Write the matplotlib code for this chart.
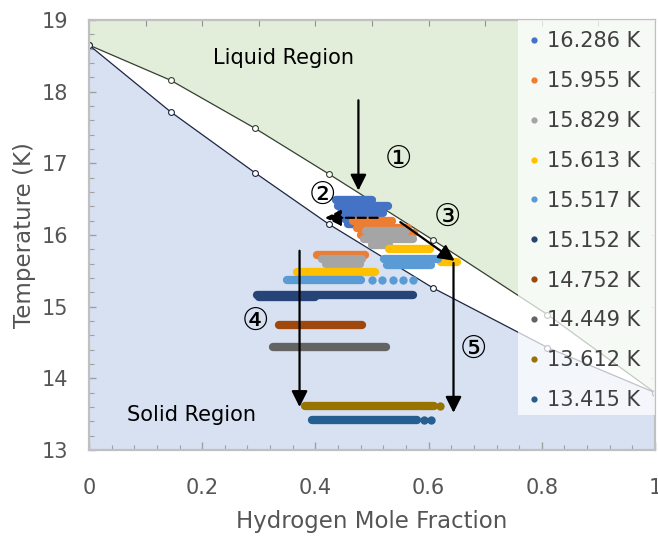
import matplotlib
matplotlib.use("Agg")
import matplotlib.pyplot as plt
from matplotlib.lines import Line2D
from matplotlib.patches import Rectangle
from matplotlib.ticker import MultipleLocator

plt.rcParams['font.family'] = ['DejaVu Sans', 'Noto Sans CJK SC']

# ---- phase boundary data ----
line_x = [0.0, 0.144, 0.293, 0.424, 0.608, 0.81, 1.0]
liquidus_T = [18.65, 18.16, 17.49, 16.85, 15.93, 14.89, 13.80]
solidus_T = [18.65, 17.72, 16.87, 16.15, 15.26, 14.43, 13.80]

# ---- measured series: rows of merged dots (x_start, x_end, T) ----
labels = ['16.286 K', '15.955 K', '15.829 K', '15.613 K', '15.517 K',
          '15.152 K', '14.752 K', '14.449 K', '13.612 K', '13.415 K']
colors = ['#4472c4', '#ed7d31', '#a5a5a5', '#ffc000', '#5b9bd5',
          '#264478', '#9e480e', '#636363', '#997300', '#255e91']
rows_16286 = [(0.437, 0.500, 16.49), (0.440, 0.529, 16.40), (0.445, 0.520, 16.31),
              (0.453, 0.510, 16.22), (0.458, 0.500, 16.15)]
rows_15955 = [(0.467, 0.536, 16.19), (0.474, 0.563, 16.10), (0.480, 0.500, 16.00),
              (0.403, 0.488, 15.72), (0.560, 0.575, 16.03)]
rows_15829 = [(0.490, 0.560, 16.05), (0.485, 0.573, 15.95), (0.500, 0.530, 15.86),
              (0.412, 0.483, 15.66), (0.418, 0.478, 15.59)]
rows_15613 = [(0.530, 0.603, 15.81), (0.622, 0.650, 15.62), (0.368, 0.506, 15.48)]
rows_15517 = [(0.522, 0.616, 15.66), (0.527, 0.605, 15.58), (0.350, 0.480, 15.37)]
dots_15517 = [(0.500, 15.37), (0.518, 15.37), (0.537, 15.37), (0.555, 15.37), (0.572, 15.37)]
rows_15152 = [(0.297, 0.572, 15.16), (0.300, 0.400, 15.13)]
rows_14752 = [(0.335, 0.483, 14.74)]
rows_14449 = [(0.325, 0.524, 14.44)]
rows_13612 = [(0.382, 0.609, 13.61)]
dots_13612 = [(0.621, 13.61)]
rows_13415 = [(0.394, 0.580, 13.42)]
dots_13415 = [(0.591, 13.42), (0.604, 13.42)]

series_rows = [rows_16286, rows_15955, rows_15829, rows_15613, rows_15517,
               rows_15152, rows_14752, rows_14449, rows_13612, rows_13415]
series_dots = [[], [], [], [], dots_15517, [], [], [], dots_13612, dots_13415]

# ---- annotations ----
region_texts = [('Liquid Region', 0.343, 18.47), ('Solid Region', 0.181, 13.49)]
step_labels = [('①', 0.547, 17.05), ('②', 0.412, 16.55), ('③', 0.634, 16.25),
               ('④', 0.294, 14.80), ('⑤', 0.680, 14.40)]
# arrows: (x_start, T_start, x_end, T_end, dashed)
arrows = [(0.476, 17.88, 0.476, 16.62, False),
          (0.510, 16.24, 0.417, 16.24, True),
          (0.550, 16.18, 0.646, 15.64, False),
          (0.372, 15.78, 0.372, 13.60, False),
          (0.644, 15.61, 0.644, 13.52, False)]

fig = plt.figure(figsize=(6.58, 5.40), dpi=100)
ax = fig.add_axes([89 / 658, 90 / 540, 566 / 658, 430 / 540])
ax.set_xlim(0, 1)
ax.set_ylim(13, 19)

# region fills
ax.fill_between(line_x, liquidus_T, 19, color='#e2eed9', lw=0, zorder=0)
ax.fill_between(line_x, 13, solidus_T, color='#d7e1f2', lw=0, zorder=0)

# boundaries
ax.plot(line_x, liquidus_T, color='#34402f', lw=0.9, marker='o', ms=4.2,
        mfc='white', mec='#34402f', mew=0.8, zorder=2)
ax.plot(line_x, solidus_T, color='#1c2640', lw=0.9, marker='o', ms=4.2,
        mfc='white', mec='#1c2640', mew=0.8, zorder=2)

# data series
dot_lw = 6.0
for rows, dots, c in zip(series_rows, series_dots, colors):
    for x0, x1, t in rows:
        ax.plot([x0, x1], [t, t], color=c, lw=dot_lw, solid_capstyle='round', zorder=3)
    if dots:
        ax.plot([d[0] for d in dots], [d[1] for d in dots], 'o', color=c,
                ms=dot_lw, mew=0, zorder=3)

# legend background box (semi-transparent)
ax.add_patch(Rectangle((0.758, 0.081), 0.242, 0.919, transform=ax.transAxes,
                       facecolor='white', alpha=0.72, edgecolor='none', zorder=4))
handles = [Line2D([], [], ls='none', marker='o', ms=4.5, mew=0, color=c) for c in colors]
leg = ax.legend(handles, labels, loc='upper left', bbox_to_anchor=(0.752, 1.008),
                frameon=False, fontsize=15, labelspacing=0.955, handlelength=0.5,
                handletextpad=0.35, borderpad=0.2, labelcolor='#404040')
leg.set_zorder(5)

# texts
for s, x, t in region_texts:
    ax.text(x, t, s, fontsize=15, ha='center', va='center', color='black', zorder=6)
for s, x, t in step_labels:
    ax.text(x, t, s, fontsize=22, ha='center', va='center', color='black', zorder=6)

for x0, t0, x1, t1, dashed in arrows:
    ax.annotate('', xy=(x1, t1), xytext=(x0, t0),
                arrowprops=dict(arrowstyle='-|>', color='black', lw=1.6,
                                mutation_scale=24, shrinkA=0, shrinkB=0,
                                linestyle='--' if dashed else '-'),
                zorder=7)

# axes styling
for sp in ax.spines.values():
    sp.set_color('#c0c0c0')
    sp.set_linewidth(1.6)
ax.set_xticks([0, 0.2, 0.4, 0.6, 0.8, 1.0])
ax.set_xticklabels(['0', '0.2', '0.4', '0.6', '0.8', '1'])
ax.set_yticks([13, 14, 15, 16, 17, 18, 19])
ax.xaxis.set_minor_locator(MultipleLocator(0.04))
ax.yaxis.set_minor_locator(MultipleLocator(0.2))
ax.tick_params(which='both', direction='in', color='#a0a0a0', labelsize=15,
               labelcolor='#555555')
ax.tick_params(axis='x', which='major', length=6, width=1, pad=20)
ax.tick_params(axis='y', which='major', length=5, width=1, pad=15)
ax.tick_params(which='minor', length=3.5, width=0.8)
ax.set_xlabel('Hydrogen Mole Fraction', fontsize=16.5, color='#555555', labelpad=9)
ax.set_ylabel('Temperature (K)', fontsize=16.5, color='#555555', labelpad=4)

# faint ticks on the top and right edges
top = ax.secondary_xaxis('top')
top.set_xticks([0.1 * i for i in range(1, 10)])
top.tick_params(direction='in', length=4, width=0.8, color='#909090', labeltop=False)
top.spines['top'].set_visible(False)
right = ax.secondary_yaxis('right')
right.set_yticks([14, 15, 16, 17, 18])
right.tick_params(direction='in', length=3, width=0.8, color='#b0b0b0', labelright=False)
right.spines['right'].set_visible(False)

fig.savefig('out.png', dpi=100)
